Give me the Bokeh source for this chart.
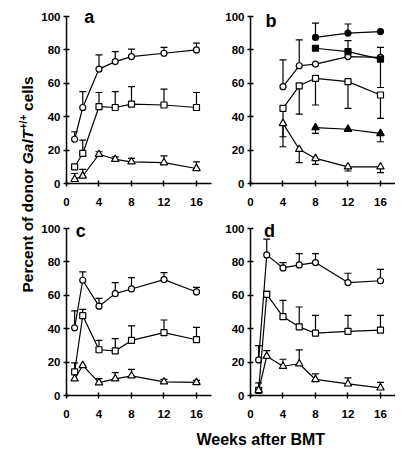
import math
from bokeh.plotting import figure
from bokeh.models import Range1d, Whisker, TeeHead, Label, ColumnDataSource, FixedTicker
from bokeh.layouts import row, column
from bokeh.embed import file_html
from bokeh.resources import INLINE

# ---------------- data ----------------
weeks = [1, 2, 4, 6, 8, 12, 16]
x_ticks = [0, 4, 8, 12, 16]
y_ticks = [0, 20, 40, 60, 80, 100]
panel_names = ["a", "b", "c", "d"]

# panel a (error = upper SD)
a_circle = [26.5, 45.5, 68.5, 73, 76, 78, 80]
a_circle_err = [4.5, 9.5, 8.5, 6, 4.5, 3.5, 4]
a_square = [10, 18, 46, 45.5, 47.5, 47, 45.5]
a_square_err = [0, 8, 8.5, 9.5, 10.5, 9.5, 9]
a_triangle = [2.5, 4.5, 17.5, 14.5, 13, 12.5, 9]
a_triangle_err = [3.5, 4, 1.5, 1.5, 2, 4, 4]

# panel b
b_weeks_open = [4, 6, 8, 12, 16]
b_weeks_filled = [8, 12, 16]
b_circle_open = [58, 70.5, 71.5, 76, 75.5]
b_circle_open_up = [16, 15.5, 0, 0, 0]
b_circle_open_down = [0, 0, 0, 0, 18]
b_square_open = [45, 58.5, 63, 61, 53]
b_square_open_down = [17, 17, 16, 16, 14]
b_triangle_open = [36, 20.5, 15, 10, 10]
b_triangle_open_down = [14, 8, 3.5, 2.5, 3.5]
b_circle_filled = [87.5, 90, 91]
b_circle_filled_up = [8.5, 5.5, 0]
b_square_filled = [81, 79, 74.5]
b_square_filled_up = [0, 6.5, 7]
b_triangle_filled = [33.5, 32.5, 30]
b_triangle_filled_down = [3.5, 0, 5]

# panel c
c_circle = [40.5, 69, 53.5, 61, 63.8, 69.4, 62]
c_circle_err = [10.2, 5, 4.6, 6.6, 6.8, 4.2, 2.8]
c_square = [14.2, 47.8, 27.4, 26.7, 33, 37.6, 33.4]
c_square_err = [5.3, 3.8, 5.6, 7.3, 8.7, 7.6, 7.4]
c_triangle = [10, 18, 7.7, 10, 11.8, 8.2, 7.8]
c_triangle_err = [0, 0, 2.4, 3.7, 3.9, 1.4, 1.2]

# panel d
d_circle = [21.3, 84.2, 76.4, 78.2, 79.6, 67.6, 68.7]
d_circle_err = [8.6, 9.4, 3.2, 6.7, 5.4, 5.6, 6.8]
d_square = [3.1, 60.6, 47.2, 41.1, 37.3, 38.4, 39.1]
d_square_err = [4.5, 1.8, 9.8, 11.9, 10.7, 9.6, 8.9]
d_triangle = [3.1, 23.5, 17.5, 19, 9.6, 7, 4.6]
d_triangle_err = [0, 3.4, 4.2, 8.3, 3.3, 3.5, 3.3]

FONT = "Liberation Sans"
LW = 1.2
PX_PER_UNIT = 1.67
FRAME_H = 180
Y_END = FRAME_H / PX_PER_UNIT


def make_panel(left, right, top, bottom):
    p = figure(frame_width=145, frame_height=FRAME_H,
               x_range=Range1d(0, 17.85), y_range=Range1d(0, Y_END),
               output_backend="svg", toolbar_location=None,
               min_border_left=left, min_border_right=right,
               min_border_top=top, min_border_bottom=bottom)
    p.grid.visible = False
    p.outline_line_color = None
    p.xaxis.ticker = FixedTicker(ticks=x_ticks)
    p.yaxis.ticker = FixedTicker(ticks=y_ticks)
    p.yaxis.bounds = (0, 100)
    p.axis.minor_tick_line_color = None
    p.axis.major_tick_in = 3
    p.axis.major_tick_out = 3
    p.axis.axis_line_width = 1.5
    p.axis.major_tick_line_width = 1.5
    p.axis.axis_line_color = "black"
    p.axis.major_tick_line_color = "black"
    p.axis.major_label_text_font = FONT
    p.axis.major_label_text_font_style = "bold"
    p.axis.major_label_text_font_size = "11.5px"
    p.axis.major_label_text_color = "black"
    p.xaxis.major_label_standoff = 11
    p.yaxis.major_label_standoff = 3
    return p


def errbars(p, xs, ys, errs, direction):
    bx, lo, hi = [], [], []
    for x, y, e in zip(xs, ys, errs):
        if e > 0:
            bx.append(x)
            if direction == "up":
                lo.append(y)
                hi.append(y + e)
            else:
                lo.append(y - e)
                hi.append(y)
    if not bx:
        return
    src = ColumnDataSource(data=dict(x=bx, lower=lo, upper=hi))
    head = TeeHead(size=7, line_width=LW, line_color="black")
    if direction == "up":
        w = Whisker(source=src, base="x", lower="lower", upper="upper",
                    dimension="height", line_width=LW, line_color="black",
                    upper_head=head, lower_head=None)
    else:
        w = Whisker(source=src, base="x", lower="lower", upper="upper",
                    dimension="height", line_width=LW, line_color="black",
                    upper_head=None, lower_head=head)
    p.add_layout(w)


def series(p, xs, ys, marker, filled=False):
    size = {"circle": 6, "square": 6, "triangle": 7.5}[marker]
    p.line(xs, ys, line_color="black", line_width=LW)
    p.scatter(xs, ys, marker=marker, size=size,
              fill_color="black" if filled else "white",
              line_color="black", line_width=LW)


def panel_label(p, text, x, y):
    p.add_layout(Label(x=x, y=y, text=text, text_font=FONT,
                       text_font_style="bold", text_font_size="18px",
                       text_color="black", text_baseline="alphabetic"))


# panel a
pa = make_panel(27, 4, 3, 30)
for ys, es, m in [(a_circle, a_circle_err, "circle"),
                  (a_square, a_square_err, "square"),
                  (a_triangle, a_triangle_err, "triangle")]:
    errbars(pa, weeks, ys, es, "up")
    series(pa, weeks, ys, m)
panel_label(pa, panel_names[0], 2.2, 100)

# panel b
pb = make_panel(35, 0, 3, 30)
errbars(pb, b_weeks_open, b_circle_open, b_circle_open_up, "up")
errbars(pb, b_weeks_open, b_circle_open, b_circle_open_down, "down")
errbars(pb, b_weeks_open, b_square_open, b_square_open_down, "down")
errbars(pb, b_weeks_open, b_triangle_open, b_triangle_open_down, "down")
errbars(pb, b_weeks_filled, b_circle_filled, b_circle_filled_up, "up")
errbars(pb, b_weeks_filled, b_square_filled, b_square_filled_up, "up")
errbars(pb, b_weeks_filled, b_triangle_filled, b_triangle_filled_down, "down")
series(pb, b_weeks_open, b_circle_open, "circle")
series(pb, b_weeks_open, b_square_open, "square")
series(pb, b_weeks_open, b_triangle_open, "triangle")
series(pb, b_weeks_filled, b_circle_filled, "circle", True)
series(pb, b_weeks_filled, b_square_filled, "square", True)
series(pb, b_weeks_filled, b_triangle_filled, "triangle", True)
panel_label(pb, panel_names[1], 1.85, 97.6)

# panel c
pc = make_panel(27, 4, 2, 28)
for ys, es, m in [(c_circle, c_circle_err, "circle"),
                  (c_square, c_square_err, "square"),
                  (c_triangle, c_triangle_err, "triangle")]:
    errbars(pc, weeks, ys, es, "up")
    series(pc, weeks, ys, m)
panel_label(pc, panel_names[2], 1.15, 98.8)

# panel d
pd_ = make_panel(35, 0, 2, 28)
for ys, es, m in [(d_circle, d_circle_err, "circle"),
                  (d_square, d_square_err, "square"),
                  (d_triangle, d_triangle_err, "triangle")]:
    errbars(pd_, weeks, ys, es, "up")
    series(pd_, weeks, ys, m)
panel_label(pd_, panel_names[3], 1.65, 98.8)


def blank(w, h):
    f = figure(width=w, height=h, x_range=Range1d(0, w), y_range=Range1d(0, h),
               output_backend="svg", toolbar_location=None,
               x_axis_type=None, y_axis_type=None, min_border=0)
    f.grid.visible = False
    f.outline_line_color = None
    return f


XLAB_H = 25
TOTAL_H = (3 + FRAME_H + 30) + (2 + FRAME_H + 28) + XLAB_H

# y axis title
ylab = blank(38, TOTAL_H)
fs = 15.5
w1 = 8.279 * fs
w2 = 2.223 * fs
w3 = 1.446 * 10
center = TOTAL_H - 184
start = center - (w1 + w2 + w3 + 2.502 * fs) / 2
pieces = [("Percent of donor", start, 26.6, "bold", "15.5px"),
          ("GalT", start + w1, 26.6, "bold italic", "15.5px"),
          ("+/+", start + w1 + w2 + 0.5, 22.5, "bold", "10px"),
          ("cells", start + w1 + w2 + w3 + 0.278 * fs, 26.6, "bold", "15.5px")]
for txt, yy, xx, style, size in pieces:
    ylab.add_layout(Label(x=xx, y=yy, text=txt, angle=math.pi / 2,
                          text_font=FONT, text_font_style=style,
                          text_font_size=size, text_color="black",
                          text_align="left", text_baseline="middle"))

# x axis title
xlab = blank(356, XLAB_H)
xlab.add_layout(Label(x=158, y=9, text="Weeks after BMT", text_font=FONT,
                      text_font_style="bold", text_font_size="16px",
                      text_color="black", text_align="left",
                      text_baseline="middle"))

layout = row(ylab, column(row(pa, pb), row(pc, pd_), xlab))

open("out.html", "w").write(file_html(layout, INLINE))
